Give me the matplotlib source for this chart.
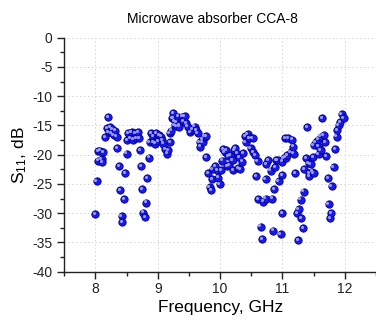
import matplotlib
matplotlib.use("Agg")
import matplotlib.pyplot as plt
import matplotlib.transforms as mtransforms
import numpy as np

freq = [8.00, 8.02, 8.04, 8.04, 8.07, 8.10, 8.12, 8.11, 8.16, 8.19, 8.20, 8.21, 8.23, 8.26,
        8.27, 8.29, 8.31, 8.34, 8.35, 8.38, 8.40, 8.42, 8.43, 8.46, 8.48, 8.50, 8.51, 8.52,
        8.55, 8.58, 8.60, 8.64, 8.65, 8.68, 8.70, 8.72, 8.73, 8.75, 8.77, 8.80, 8.81, 8.83,
        8.86, 8.87, 8.89, 8.92, 8.92, 8.96, 8.97, 9.00, 9.02, 9.05, 9.07, 9.09, 9.12, 9.15,
        9.16, 9.19, 9.20, 9.21, 9.23, 9.24, 9.25, 9.27, 9.27, 9.29, 9.30, 9.32, 9.34, 9.34,
        9.39, 9.41, 9.43, 9.46, 9.48, 9.52, 9.55, 9.59, 9.61, 9.64, 9.67, 9.68, 9.71, 9.72,
        9.75, 9.78, 9.78, 9.81, 9.83, 9.86, 9.87, 9.88, 9.92, 9.96, 9.97, 9.99, 10.01, 10.03,
        10.05, 10.07, 10.09, 10.11, 10.13, 10.15, 10.17, 10.20, 10.21, 10.23, 10.24, 10.28,
        10.29, 10.31, 10.32, 10.35, 10.37, 10.40, 10.41, 10.44, 10.46, 10.49, 10.52, 10.53,
        10.56, 10.58, 10.60, 10.61, 10.65, 10.67, 10.69, 10.73, 10.73, 10.74, 10.77, 10.81,
        10.83, 10.85, 10.86, 10.88, 10.90, 10.92, 10.94, 10.97, 10.99, 11.00, 11.00, 11.02,
        11.04, 11.05, 11.08, 11.09, 11.13, 11.15, 11.17, 11.18, 11.20, 11.23, 11.25, 11.26,
        11.29, 11.30, 11.33, 11.34, 11.35, 11.38, 11.40, 11.42, 11.43, 11.43, 11.45, 11.47,
        11.49, 11.50, 11.50, 11.53, 11.57, 11.58, 11.58, 11.61, 11.61, 11.63, 11.66, 11.68,
        11.70, 11.73, 11.74, 11.77, 11.78, 11.79, 11.82, 11.84, 11.87, 11.88, 11.90, 11.93,
        11.95, 11.98]

s11 = [-30.1, -24.5, -21.0, -19.4, -19.3, -20.7, -19.5, -21.3, -17.0, -15.5, -13.6, -16.1, -15.3, -16.3,
       -15.6, -16.6, -15.9, -16.9, -18.9, -21.9, -26.1, -30.5, -31.5, -27.6, -23.2, -19.8, -17.5, -16.3,
       -17.2, -16.2, -17.4, -16.3, -17.1, -16.2, -17.1, -19.2, -22.0, -25.9, -29.9, -30.7, -28.2, -24.0,
       -20.5, -17.9, -16.3, -16.9, -17.8, -18.1, -16.3, -17.7, -16.6, -16.9, -17.5, -18.1, -19.1, -19.8,
       -19.2, -16.3, -17.8, -15.9, -13.8, -13.8, -12.9, -14.9, -14.2, -15.1, -14.4, -13.5, -14.9, -15.2,
       -13.5, -14.2, -13.4, -14.6, -15.2, -16.1, -15.7, -15.2, -15.8, -16.3, -17.8, -18.6, -17.4, -17.9,
       -16.9, -16.8, -20.4, -23.1, -25.6, -26.0, -24.2, -22.5, -21.9, -22.7, -23.9, -25.0, -22.6, -21.0,
       -19.1, -19.5, -19.2, -22.0, -20.3, -21.8, -20.1, -20.9, -22.6, -19.2, -18.9, -19.8,
       -22.3, -20.4, -22.5, -21.2, -19.7, -16.8, -17.9, -16.5, -17.2, -18.9, -17.2, -19.5,
       -20.1, -23.6, -21.1, -27.6, -32.3, -34.4, -28.0, -27.5, -24.2, -21.6, -20.9, -22.7,
       -27.5, -33.0, -25.9, -22.1, -20.9, -20.9, -24.5, -33.6, -30.0, -21.2, -23.5, -20.6,
       -17.2, -20.5, -20.1, -17.2, -19.5, -17.4, -18.6, -19.8, -23.1, -30.0, -34.6, -29.3,
       -27.7, -30.8, -32.5, -26.3, -22.4, -20.6, -15.3, -21.4, -23.1, -23.7, -21.6, -22.9,
       -20.4, -18.3, -23.2, -17.8, -17.4, -18.6, -19.9, -16.9, -19.2, -13.8, -16.6, -17.9,
       -20.2, -24.0, -28.4, -30.9, -30.0, -25.4, -22.1, -19.1, -16.9, -15.8, -14.9, -14.4,
       -13.0, -13.8]

x_ticks = [8, 9, 10, 11, 12]
y_ticks = [0, -5, -10, -15, -20, -25, -30, -35, -40]

plt.rcParams['font.family'] = ['Liberation Sans', 'DejaVu Sans']
plt.rcParams['mathtext.default'] = 'regular'
plt.rcParams['axes.unicode_minus'] = False

fig = plt.figure(figsize=(3.76, 3.2), dpi=100)
ax = fig.add_axes([0.171, 0.151, 0.829, 0.731])

ax.scatter(freq, s11, s=28, color='#1a1ae6', edgecolors='#00008b', linewidths=0.6, zorder=3)
hl = mtransforms.offset_copy(ax.transData, fig=fig, x=-0.9, y=0.9, units='points')
ax.scatter(freq, s11, s=5, color='#9a9aff', linewidths=0, transform=hl, zorder=4)

ax.set_xlim(7.5, 12.5)
ax.set_ylim(-40, 0)
ax.set_xticks(x_ticks)
ax.set_yticks(y_ticks)
ax.set_xticks(np.arange(7.5, 12.6, 0.5), minor=True)
ax.set_yticks(np.arange(-40, 0.1, 2.5), minor=True)
ax.tick_params(axis='both', which='major', direction='out', length=5, width=1, labelsize=10, colors='#222222')
ax.tick_params(axis='x', which='major', pad=2.5)
ax.tick_params(axis='both', which='minor', direction='out', length=3, width=1, colors='#222222')
for side in ['top', 'right']:
    ax.spines[side].set_visible(False)
for side in ['left', 'bottom']:
    ax.spines[side].set_linewidth(1)
    ax.spines[side].set_color('#222222')

ax.grid(True, which='major', color='#d4d4d4', linestyle=(0, (1.5, 2.5)), linewidth=0.7)
ax.set_axisbelow(True)

ax.set_xlabel('Frequency, GHz', fontsize=12.5, labelpad=3)
ax.set_ylabel('S$_{11}$, dB', fontsize=12.5, labelpad=2)
fig.text(212 / 376, 1 - 19 / 320, 'Microwave absorber CCA-8', ha='center', va='center', fontsize=10)

fig.savefig('out.png', dpi=100)
